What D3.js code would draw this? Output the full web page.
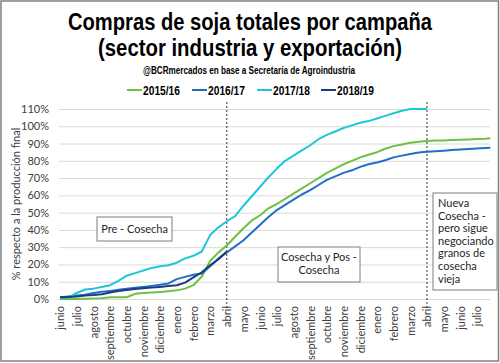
<!DOCTYPE html>
<html>
<head>
<meta charset="utf-8">
<script src="https://cdn.jsdelivr.net/npm/d3@7"></script>
<style>
  body { margin: 0; background: #fff; }
  svg { display: block; }
</style>
</head>
<body>
<div id="chart"></div>
<script>
// month labels along the x axis (junio of year 1 -> julio of year 3)
var meses = ["junio","julio","agosto","septiembre","octubre","noviembre","diciembre","enero","febrero","marzo","abril","mayo",
  "junio","julio","agosto","septiembre","octubre","noviembre","diciembre","enero","febrero","marzo","abril","mayo","junio","julio"];

var campanias = ["2015/16","2016/17","2017/18","2018/19"];
var colores = ["#70bf45","#1f6fc6","#1fc6da","#1c3c7c"];

// x position of each reading, in months since junio (half month steps)
var posMes = [0,0.5,1,1.5,2,2.5,3,3.5,4,4.5,5,5.5,6,6.5,7,7.5,8,8.5,9,9.5,10,10.5,11,11.5,12,12.5,
  13,13.5,14,14.5,15,15.5,16,16.5,17,17.5,18,18.5,19,19.5,20,20.5,21,21.5,22,22.5,23,23.5,24,24.5,25,25.5,25.8];

// % of final production bought
var c1516 = [0,0,0,0.2,0.3,0.5,1,1,1,3,3.5,3.8,4,4.5,5,6,8,13,22,27,31,36,41,45.5,48.5,52.5,
  55,58,61,64,67,70,73,75.5,78,80,82,83.5,85,87,88.5,89.5,90.5,91,91.5,91.7,91.8,92,92.2,92.4,92.6,92.8,93];
var c1617 = [1,1.5,2,2.5,3.5,4.2,4.7,5.3,6,6.5,7,7.6,8.2,9,11.5,12.8,14,14.8,19,23.5,27,30.5,34,38.5,43,47.5,
  51.5,54.5,57.5,60.5,63,66,69,71,73,74.5,76.5,78,79,80.3,82,83,84,84.8,85.3,85.6,85.9,86.2,86.5,86.8,87.1,87.4,87.6];
var c1718 = [0.5,0.8,3.5,5.5,6,7,8,10.5,13.5,15,16.5,18,19,19.5,21,23.5,25,27.5,37,41.5,45,48,54,59.5,65,70.5,
  75.5,80,83,86,89,92.5,95,97,99,100.5,102,103,104.5,106,107.5,109,110,110,110];
var c1819 = [1,1.2,1.5,2,2.3,2.8,3.8,4.6,5.2,5.8,6.2,6.6,7,7.5,8,9.5,12.5,15.5,19.5,23,27.5];

var series = [c1516, c1617, c1718, c1819];

var width = 500, height = 363;
var fuente = "Lato, 'Open Sans', sans-serif";
var fuenteTit = "'Liberation Sans Narrow', sans-serif";

var svg = d3.select("#chart").append("svg")
  .attr("width", width)
  .attr("height", height)
  .style("font-family", fuente);

// outer frame
svg.append("rect")
  .attr("x", 1).attr("y", 1)
  .attr("width", width - 2.5).attr("height", height - 3)
  .attr("fill", "#fff")
  .attr("stroke", "#808080")
  .attr("stroke-width", 1.5);

var x = d3.scaleLinear().domain([0, 25]).range([60, 477]);
var y = d3.scaleLinear().domain([0, 110]).range([299, 109]);

// y axis + gridlines
var yAxis = svg.append("g")
  .attr("transform", "translate(59,0)")
  .call(d3.axisLeft(y)
    .tickValues(d3.range(0, 111, 10))
    .tickFormat(d => d + "%")
    .tickSize(-(490 - 59))
    .tickPadding(10));
yAxis.select(".domain").remove();
yAxis.selectAll("line").attr("stroke", "#d9d9d9");
yAxis.selectAll("text")
  .attr("fill", "#404040")
  .style("font-size", "11px")
  .style("font-family", fuente);

// x axis labels (rotated)
var xAxis = svg.append("g")
  .attr("transform", "translate(0,299)")
  .call(d3.axisBottom(x)
    .tickValues(d3.range(meses.length))
    .tickFormat(i => meses[i])
    .tickSize(0));
xAxis.select(".domain").remove();
xAxis.selectAll("text")
  .attr("transform", "rotate(-90)")
  .attr("text-anchor", "end")
  .attr("x", -7)
  .attr("y", 0)
  .attr("dy", "0.35em")
  .attr("fill", "#404040")
  .style("font-size", "11px")
  .style("font-family", fuente);

// y axis title
svg.append("text")
  .attr("transform", "translate(20,204) rotate(-90)")
  .attr("text-anchor", "middle")
  .attr("fill", "#404040")
  .style("font-size", "11px")
  .text("% respecto a la producción final");

// dashed lines at abril
[10, 22].forEach(function(m) {
  svg.append("line")
    .attr("x1", x(m)).attr("x2", x(m))
    .attr("y1", 102).attr("y2", 309)
    .attr("stroke", "#333")
    .attr("stroke-width", 1)
    .attr("stroke-dasharray", "2,2");
});

// series lines
var linea = d3.line()
  .x((d, i) => x(posMes[i]))
  .y(d => y(d));

series.forEach(function(s, k) {
  svg.append("path")
    .datum(s)
    .attr("fill", "none")
    .attr("stroke", colores[k])
    .attr("stroke-width", 2)
    .attr("stroke-linejoin", "round")
    .attr("d", linea);
});

// annotation boxes
function caja(x0, y0, w, h, lineas, alin, tx, ty0, dy) {
  var g = svg.append("g");
  g.append("rect")
    .attr("x", x0).attr("y", y0)
    .attr("width", w).attr("height", h)
    .attr("fill", "#fff")
    .attr("stroke", "#7f7f7f")
    .attr("stroke-width", 1);
  lineas.forEach(function(t, i) {
    g.append("text")
      .attr("x", tx)
      .attr("y", ty0 + i * dy)
      .attr("text-anchor", alin)
      .attr("fill", "#262626")
      .style("font-size", "11px")
      .text(t);
  });
}
caja(97, 217, 75, 24, ["Pre - Cosecha"], "middle", 134.5, 233, 0);
caja(278, 247, 82, 35, ["Cosecha y Pos -", "Cosecha"], "middle", 319, 261, 13);
caja(433, 193, 64, 97, ["Nueva", "Cosecha -", "pero sigue", "negociando", "granos de", "cosecha", "vieja"], "start", 438, 207, 12.6);

// titles
svg.append("text")
  .attr("x", 250).attr("y", 30)
  .attr("text-anchor", "middle")
  .attr("textLength", 364).attr("lengthAdjust", "spacingAndGlyphs")
  .style("font-family", fuenteTit)
  .style("font-weight", "bold")
  .style("font-size", "23px")
  .text("Compras de soja totales por campaña");
svg.append("text")
  .attr("x", 250).attr("y", 56)
  .attr("text-anchor", "middle")
  .attr("textLength", 304).attr("lengthAdjust", "spacingAndGlyphs")
  .style("font-family", fuenteTit)
  .style("font-weight", "bold")
  .style("font-size", "23px")
  .text("(sector industria y exportación)");
svg.append("text")
  .attr("x", 249).attr("y", 74)
  .attr("text-anchor", "middle")
  .attr("textLength", 212).attr("lengthAdjust", "spacingAndGlyphs")
  .style("font-family", fuenteTit)
  .style("font-weight", "bold")
  .style("font-size", "10px")
  .text("@BCRmercados en base a Secretaría de Agroindustria");

// legend
var legX = [127, 192, 257, 321];
campanias.forEach(function(c, k) {
  var g = svg.append("g").attr("transform", "translate(" + legX[k] + ",90)");
  g.append("line")
    .attr("x1", 0).attr("x2", 15)
    .attr("stroke", colores[k])
    .attr("stroke-width", 2);
  g.append("text")
    .attr("x", 16).attr("y", 4.5)
    .attr("textLength", 37).attr("lengthAdjust", "spacingAndGlyphs")
    .style("font-family", fuenteTit)
    .style("font-weight", "bold")
    .style("font-size", "12.5px")
    .text(c);
});
</script>
</body>
</html>
